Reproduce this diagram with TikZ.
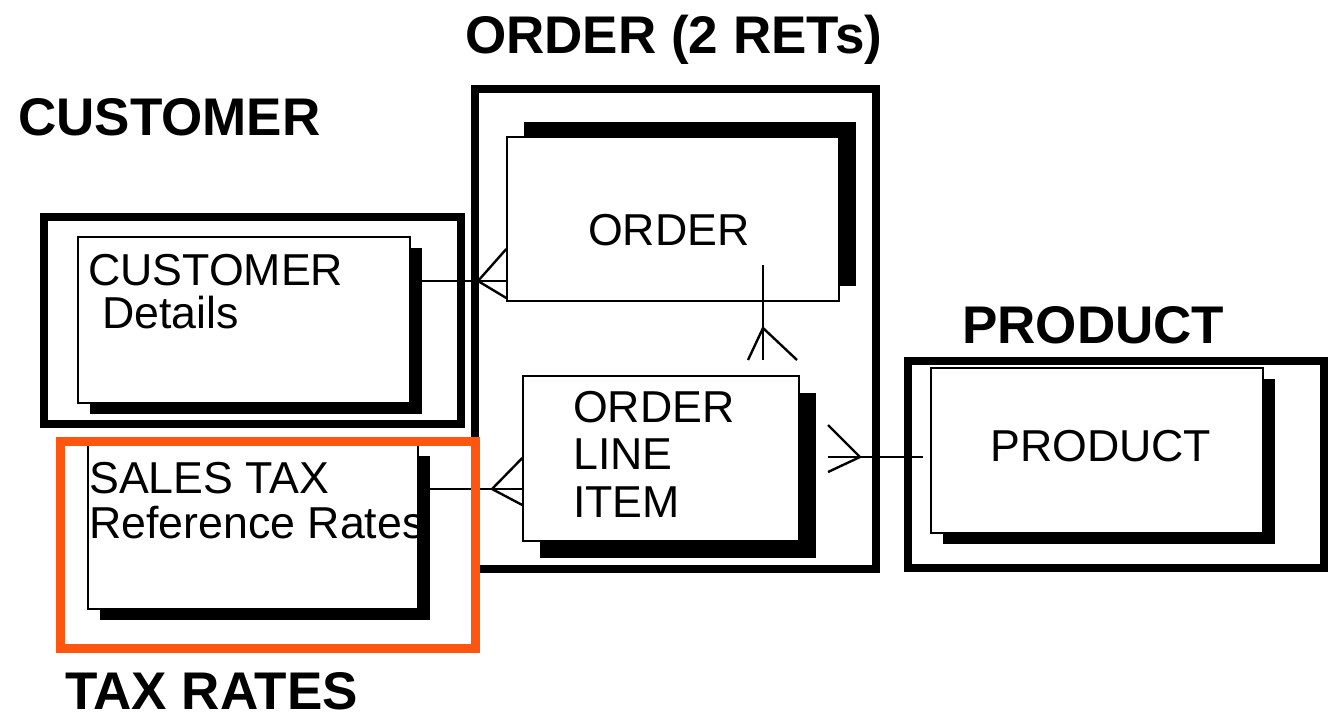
\documentclass[tikz,border=0pt]{standalone}
\usepackage{fontspec}
\setmainfont{Liberation Sans}
\usetikzlibrary{calc,shadows}
\definecolor{taxorange}{RGB}{255,85,15}
\begin{document}
\begin{tikzpicture}[x=1pt,y=-1pt,
  groupbox/.style={draw=black,line width=8.5pt,rectangle,inner sep=0pt},
  entity/.style={draw=black,fill=white,line width=1.4pt,rectangle,inner sep=0pt},
  shade down/.style={drop shadow={shadow xshift=11.5pt,shadow yshift=-11pt,opacity=1,fill=black}},
  shade deep/.style={drop shadow={shadow xshift=17pt,shadow yshift=-17pt,opacity=1,fill=black}},
  shade up/.style={drop shadow={shadow xshift=17pt,shadow yshift=15pt,opacity=1,fill=black}},
  grouptitle/.style={font=\fontsize{53}{60}\selectfont\bfseries,anchor=base west,inner sep=0pt},
  label/.style={font=\fontsize{44.7}{50}\selectfont,anchor=base west,inner sep=0pt},
  conn/.style={line width=2pt},
  crow/.style={line width=2.4pt,line join=miter}]
\useasboundingbox (0,0) rectangle (1333,721);

% group frames
\node[groupbox,minimum width=417pt,minimum height=207pt] (custgroup) at (252.5,320.5) {};
\node[groupbox,minimum width=401pt,minimum height=480pt] (ordergroup) at (675.5,329) {};
\node[groupbox,minimum width=416pt,minimum height=207pt] (prodgroup) at (1116,464.5) {};

% group titles
\node[grouptitle] (tcust) at (18,135) {CUSTOMER};
\node[grouptitle] (torder) at (465,53) {ORDER (2 RETs)};
\node[grouptitle] (tprod) at (962,343) {PRODUCT};
\node[grouptitle] (ttax) at (65,709) {TAX RATES};

% entities with their shadows
\node[entity,shade down,minimum width=332pt,minimum height=166pt] (cust) at (244,320) {};
\node[entity,shade up,minimum width=332pt,minimum height=164pt] (order) at (673,219) {};
\node[entity,shade deep,minimum width=276pt,minimum height=165pt] (oli) at (661,458.5) {};
\node[entity,shade down,minimum width=330pt,minimum height=164pt] (tax) at (253,527) {};
\node[entity,shade down,minimum width=332pt,minimum height=165pt] (prod) at (1097,450.5) {};

% entity names
\node[label] (lcust1) at (88,285) {CUSTOMER};
\node[label] (lcust2) at (102,328) {Details};
\node[label] (lorder) at (588,245) {ORDER};
\node[label] (loli1) at (573,422) {ORDER};
\node[label] (loli2) at (573,469) {LINE};
\node[label] (loli3) at (573,517) {ITEM};
\node[label] (ltax1) at (89,493) {SALES TAX};
\node[label] (ltax2) at (89,538) {Reference Rates};
\node[label] (lprod) at (990,461) {PRODUCT};

% customer -> order (many)
\coordinate (cfoot) at (478,281);
\draw[conn] (cust.east |- cfoot) -- (order.west |- cfoot);
\draw[crow] ($(order.west |- cfoot)+(0,-32)$) -- (cfoot) -- ($(order.west |- cfoot)+(0,17)$);

% sales tax -> order line item (many)
\coordinate (tfoot) at (492,489);
\draw[conn] (tax.east |- tfoot) -- (oli.west |- tfoot);
\draw[crow] ($(oli.west |- tfoot)+(0,-31)$) -- (tfoot) -- ($(oli.west |- tfoot)+(0,16)$);

% order -> order line item (many)
\coordinate (otop) at (763,265);
\coordinate (obot) at (763,360);
\coordinate (ofoot) at (763,328);
\draw[conn] (otop) -- (obot);
\draw[crow] (748,360) -- (ofoot) -- (797,360);

% order line item -> product (many)
\coordinate (pstart) at (828,457);
\coordinate (pend) at (923,457);
\coordinate (pfoot) at (860,457);
\draw[conn] (pstart) -- (pend);
\draw[crow] (828,425) -- (pfoot) -- (828,472);

% tax rates frame, drawn over the order frame
\node[draw=taxorange,line width=9pt,rectangle,inner sep=0pt,minimum width=415pt,minimum height=207pt] (taxgroup) at (267.5,544.5) {};
\end{tikzpicture}
\end{document}
